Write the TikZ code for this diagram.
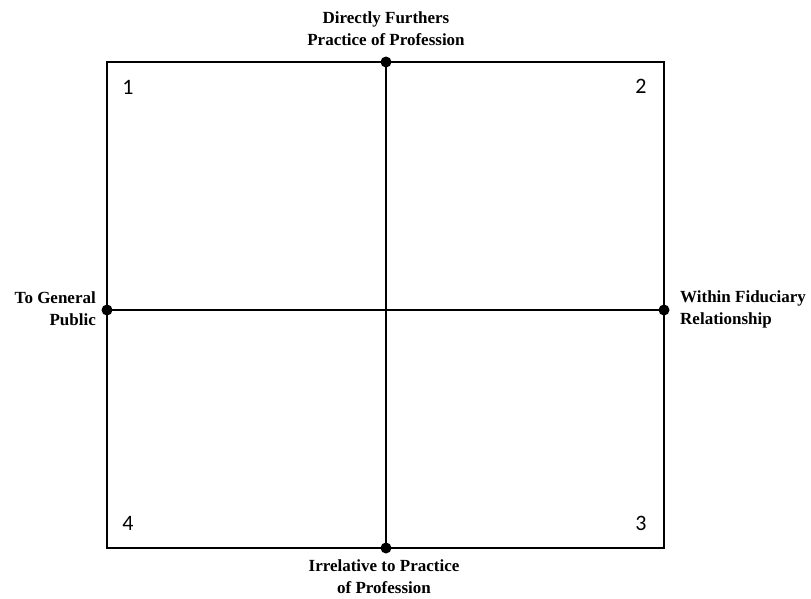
\documentclass[tikz,border=0pt]{standalone}
\usepackage{fontspec}
\setmainfont{Liberation Serif}
\newfontfamily\numfont{Carlito}
\begin{document}
\begin{tikzpicture}[
        x=1pt, y=-1pt,
        axislabel/.style={
            font=\bfseries\fontsize{17}{22}\selectfont,
            align=center,
            inner sep=0pt
        },
        quadnum/.style={font=\numfont\fontsize{22}{22}\selectfont, inner sep=0pt},
        enddot/.style={circle, fill=black, inner sep=0pt, minimum size=11pt},
        line/.style={draw, line width=1.4pt}
    ]
        \useasboundingbox (0,0) rectangle (811,598);

        \coordinate (nw) at (107,62);
        \coordinate (se) at (664,548);
        \draw[line] (nw) rectangle (se);

        \node[enddot] (top) at (386,62) {};
        \node[enddot] (bottom) at (386,548) {};
        \node[enddot] (left) at (107,310) {};
        \node[enddot] (right) at (664,310) {};
        \draw[line] (top.center) -- (bottom.center);
        \draw[line] (left.center) -- (right.center);

        \node[axislabel] (further) at (386,29) {Directly Furthers\\Practice of Profession};
        \node[axislabel] (irrelative) at (384,577) {Irrelative to Practice\\of Profession};
        \node[axislabel, align=right, anchor=east] (public) at (96,309) {To General\\Public};
        \node[axislabel, align=left, anchor=west] (fiduciary) at (680,309) {Within Fiduciary\\Relationship};

        \node[quadnum] (q1) at (128,87) {1};
        \node[quadnum] (q2) at (641,86) {2};
        \node[quadnum] (q3) at (641,523) {3};
        \node[quadnum] (q4) at (128,523) {4};
    \end{tikzpicture}
\end{document}
